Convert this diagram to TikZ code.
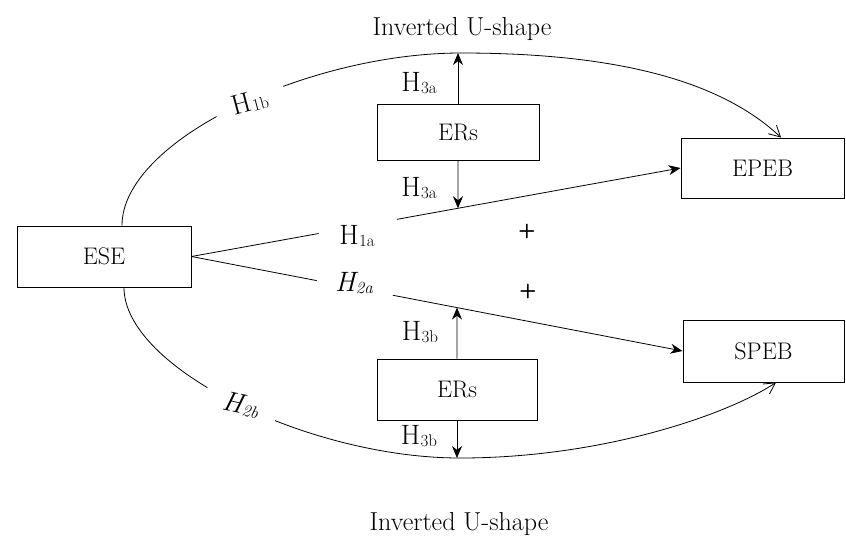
\documentclass[tikz,border=0pt]{standalone}
\usetikzlibrary{arrows.meta,calc}
\newcommand{\Hs}[1]{H\kern0.3pt\raisebox{-1.5pt}{\fontsize{17}{17}\selectfont #1}}
\newcommand{\Hi}[1]{\itshape H\kern0.3pt\raisebox{-1.5pt}{\fontsize{17}{17}\selectfont #1}}
\begin{document}
\begin{tikzpicture}[x=1pt,y=-1pt, line width=0.8pt,
  box/.style={draw, line width=1pt, inner sep=0pt, font=\fontsize{24}{24}\selectfont},
  lab/.style={font=\fontsize{28}{28}\selectfont, inner sep=1pt},
  gap/.style={lab, fill=white, inner xsep=18pt, inner ysep=3pt},
  title/.style={font=\fontsize{26}{26}\selectfont, anchor=base, inner sep=0pt},
  plus/.style={font=\fontsize{20}{20}\sffamily\bfseries, inner sep=0pt},
  barb/.style={-{Straight Barb[length=11pt,width=12pt,line width=0.8pt]}},
  filarr/.style={-{Stealth[length=12pt,width=10pt]}}
]
\useasboundingbox (0,0) rectangle (846,542);

% boxes
\node[box, minimum width=174pt, minimum height=61pt] (ese) at (104,256.5) {ESE};
\node[box, minimum width=163pt, minimum height=60pt] (epeb) at (762.5,168) {EPEB};
\node[box, minimum width=161pt, minimum height=62pt] (speb) at (763.5,351) {SPEB};
\node[box, minimum width=162pt, minimum height=56pt] (ers1) at (458,132) {ERs};
\node[box, minimum width=160pt, minimum height=61pt] (ers2) at (457,389.5) {ERs};

% titles
\node[title] (tt) at (462,35) {Inverted U-shape};
\node[title] (tb) at (459,530) {Inverted U-shape};

% curved arcs
\coordinate (arcTop) at (461,53);
\coordinate (arcBot) at (460,458);
\draw[barb] ([xshift=18pt]ese.north) .. controls (122,140) and (309,53) .. (arcTop)
  .. controls (620,53) and (722,82) .. ([xshift=18.5pt]epeb.north);
\draw[barb] ([xshift=20pt]ese.south) .. controls (124,368) and (309,458) .. (arcBot)
  .. controls (600,458) and (725,416) .. ([xshift=12.5pt]speb.south);
\node[gap, rotate=15] (h1b) at (250,102) {\Hs{1b}};
\node[gap, rotate=-12] (h2b) at (241,405) {\Hi{2b}};

% straight connectors
\draw (ese.east) -- ($(ese.east)!0.26!(epeb.west)$);
\draw[filarr] ($(ese.east)!0.42!(epeb.west)$) -- (epeb.west);
\draw (ese.east) -- ($(ese.east)!0.255!(speb.west)$);
\draw[filarr] ($(ese.east)!0.41!(speb.west)$) -- (speb.west);
\node[lab] (h1a) at (357,236) {\Hs{1a}};
\node[lab] (h2a) at (354,283) {\Hi{2a}};

% moderator arrows
\draw[filarr] (ers1.north) -- (ers1.north |- arcTop);
\draw[filarr] (ers1.south) -- (intersection of ese.east--epeb.west and ers1.south--ers1.north);
\draw[filarr] (ers2.north) -- (intersection of ese.east--speb.west and ers2.north--ers2.south);
\draw[filarr] (ers2.south) -- (ers2.south |- arcBot);
\node[lab] (h3a1) at (419,83) {\Hs{3a}};
\node[lab] (h3a2) at (419,188) {\Hs{3a}};
\node[lab] (h3b1) at (420,332) {\Hs{3b}};
\node[lab] (h3b2) at (419,436) {\Hs{3b}};

% plus signs
\node[plus] (p1) at (527,231) {+};
\node[plus] (p2) at (528,291) {+};
\end{tikzpicture}
\end{document}
